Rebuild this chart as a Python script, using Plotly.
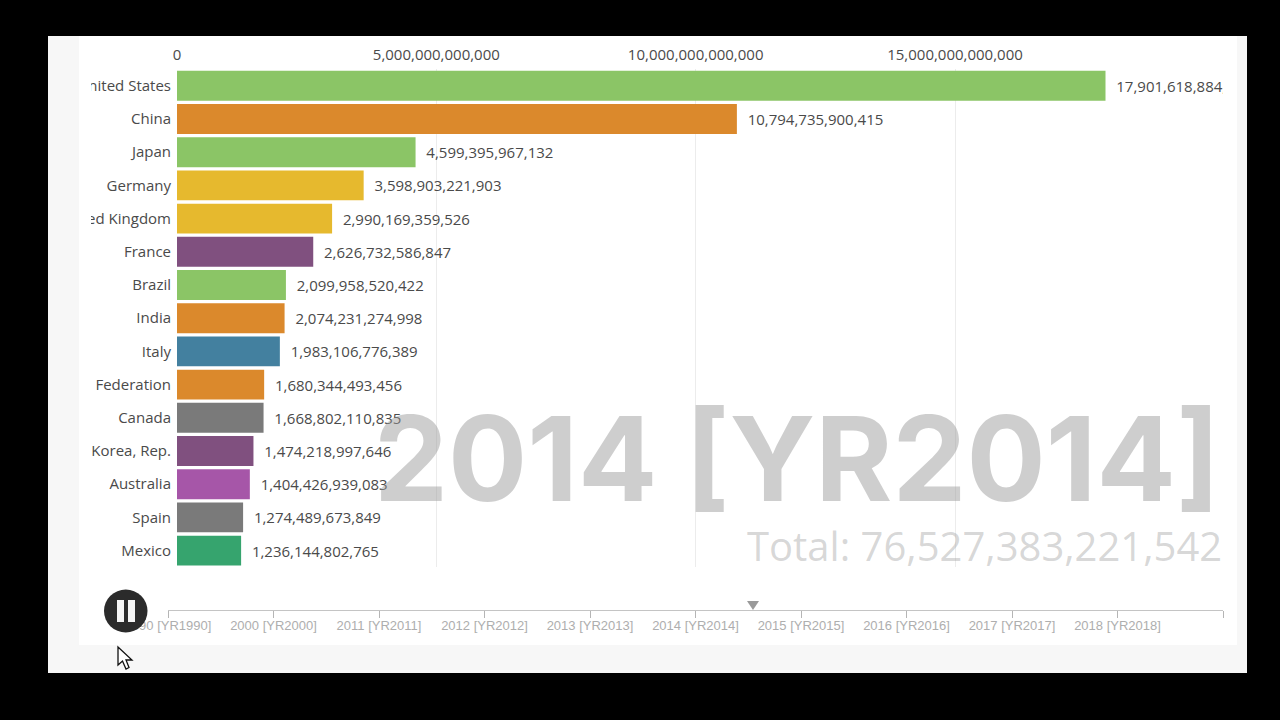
import plotly.graph_objects as go

countries = ["United States", "China", "Japan", "Germany", "United Kingdom", "France", "Brazil", "India",
             "Italy", "Federation", "Canada", "Korea, Rep.", "Australia", "Spain", "Mexico"]
gdp = [17901618884000, 10794735900415, 4599395967132, 3598903221903, 2990169359526, 2626732586847,
       2099958520422, 2074231274998, 1983106776389, 1680344493456, 1668802110835, 1474218997646,
       1404426939083, 1274489673849, 1236144802765]
colors = ["#8bc566", "#db892c", "#8bc566", "#e6b92e", "#e6b92e", "#80507f", "#8bc566", "#db892c",
          "#43809f", "#db892c", "#7a7a7a", "#80507f", "#a656a8", "#7a7a7a", "#36a46e"]
axis_ticks = [0, 5000000000000, 10000000000000, 15000000000000]
timeline = ["1990 [YR1990]", "2000 [YR2000]", "2011 [YR2011]", "2012 [YR2012]", "2013 [YR2013]",
            "2014 [YR2014]", "2015 [YR2015]", "2016 [YR2016]", "2017 [YR2017]", "2018 [YR2018]", ""]
timeline_pos = [0, 1, 2, 3, 4, 5, 6, 7, 8, 9, 10]
year_label = "2014 [YR2014]"
total_label = "Total: 76,527,383,221,542"

W, H = 1280, 720
X0, X1 = 177, 1223
Y0, Y1 = 69.2, 567.2
PX_PER_UNIT = (955 - 177) / 15e12
TEXT = "#4a4a4a"
FONT = "Open Sans"


def px(x):
    return x / W


def py(y):
    return 1 - y / H


def rect(x0, y0, x1, y1, color, layer="below"):
    return dict(type="rect", xref="paper", yref="paper", x0=px(x0), x1=px(x1), y0=py(y1), y1=py(y0),
                fillcolor=color, line_width=0, layer=layer)


def path(points, fill, line=None, width=0):
    d = "M" + " L".join(f"{px(a):.5f},{py(b):.5f}" for a, b in points) + " Z"
    return dict(type="path", xref="paper", yref="paper", path=d, fillcolor=fill,
                line=dict(color=line or fill, width=width), layer="above")


shapes = [
    rect(48, 36, 1247, 673, "#f7f7f7"),
    rect(79, 36, 1237, 645, "#ffffff"),
    rect(48, 60, 79, 570, "#f7f7f7", "above"),
    rect(79, 60, 91, 570, "#ffffff", "above"),
    dict(type="circle", xref="paper", yref="paper", x0=px(104), x1=px(147.5), y0=py(632.5), y1=py(589.5),
         fillcolor="#2b2b2b", line_width=0, layer="above"),
    rect(117, 600, 124, 622, "#f4f4f4", "above"),
    rect(128, 600, 135, 622, "#f4f4f4", "above"),
    path([(747, 601), (759, 601), (753, 610)], "#9a9a9a"),
    path([(118, 647), (118, 665), (122.5, 661), (126, 669), (129, 667.5), (126, 660), (132, 660)],
         "#ffffff", "#111111", 1.3),
]

fig = go.Figure()
fig.add_trace(go.Bar(
    x=gdp, y=countries, orientation="h", marker=dict(color=colors, line_width=0),
    text=[f"\u00a0\u00a0{v:,}" for v in gdp], textposition="outside", constraintext="none",
    textfont=dict(family=FONT, size=15, color=TEXT), cliponaxis=True, hoverinfo="skip",
))
fig.add_trace(go.Scatter(
    x=timeline_pos, y=[countries[0]] * len(timeline_pos), xaxis="x2", mode="markers",
    marker=dict(opacity=0), hoverinfo="skip",
))

fig.update_layout(
    width=W, height=H, autosize=False, margin=dict(l=0, r=0, t=0, b=0, pad=0, autoexpand=False),
    paper_bgcolor="#000000", plot_bgcolor="rgba(0,0,0,0)", showlegend=False, bargap=0.1,
    shapes=shapes,
    xaxis=dict(domain=[px(X0), px(X1)], range=[0, (X1 - X0) / PX_PER_UNIT], side="top",
               tickvals=axis_ticks, tickformat=",.0f", tickfont=dict(family=FONT, size=15, color=TEXT),
               showgrid=True, gridcolor="#ececec", gridwidth=1, zeroline=False, showline=False,
               ticks="", ticklabelstandoff=5, automargin=False),
    yaxis=dict(domain=[py(Y1), py(Y0)], type="category", categoryorder="array", categoryarray=countries,
               range=[14.5, -0.5], tickfont=dict(family=FONT, size=15, color=TEXT),
               showgrid=False, zeroline=False, showline=False, ticks="", ticklabelstandoff=5, automargin=False),
    xaxis2=dict(domain=[px(168), px(1223)], anchor="free", position=py(610),
                range=[0, 10], tickvals=timeline_pos, ticktext=timeline,
                ticks="outside", ticklen=7, tickcolor="#b5b5b5", tickwidth=1, showline=True, linecolor="#c4c4c4",
                linewidth=1, showgrid=False, zeroline=False, side="bottom", automargin=False, ticklabelstandoff=-4,
                tickfont=dict(family="Liberation Sans", size=13, color="#aeaeae")),
    annotations=[
        dict(xref="paper", yref="paper", x=px(1222), y=py(458), xanchor="right", yanchor="middle",
             text=f"<b>{year_label}</b>", showarrow=False,
             font=dict(family="Inter", size=117.5, color="rgba(150,150,150,0.47)")),
        dict(xref="paper", yref="paper", x=px(1224), y=py(545), xanchor="right", yanchor="middle",
             text=total_label, showarrow=False, font=dict(family=FONT, size=40, color="rgba(160,160,160,0.42)")),
    ],
)

fig.write_html("out.html", config={"displayModeBar": False},
               post_script="document.body.style.margin='0';document.body.style.overflow='hidden';")
